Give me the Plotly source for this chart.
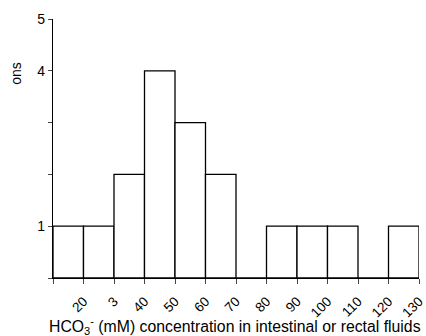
import plotly.graph_objects as go

bin_centers = [15, 25, 35, 45, 55, 65, 75, 85, 95, 105, 115, 125]
counts = [1, 1, 2, 4, 3, 2, 0, 1, 1, 1, 0, 1]
x_tickvals = [10, 20, 30, 40, 50, 60, 70, 80, 90, 100, 110, 120, 130]
x_ticktext = ["", "20", "3", "40", "50", "60", "70", "80", "90", "100", "110", "120", "130"]
y_tickvals = [0, 1, 2, 3, 4, 5]
y_ticktext = ["", "1", "", "", "4", "5"]

font = "Liberation Sans, Arial, sans-serif"

fig = go.Figure(go.Bar(
    x=bin_centers, y=counts, width=10,
    marker=dict(color="white", line=dict(color="black", width=1.3)),
))

fig.update_layout(
    width=426, height=336,
    margin=dict(l=53, r=7, t=19, b=58),
    plot_bgcolor="white", paper_bgcolor="white",
    showlegend=False,
    font=dict(family=font, size=13, color="black"),
    xaxis=dict(range=[10, 130], tickvals=x_tickvals, ticktext=x_ticktext,
               tickangle=-45, ticks="outside", ticklen=5, tickwidth=1.3,
               ticklabelstandoff=4,
               showline=True, linecolor="black", linewidth=1.3, showgrid=False,
               zeroline=False, tickfont=dict(size=13.5), automargin=False),
    yaxis=dict(range=[0, 5], tickvals=y_tickvals, ticktext=y_ticktext,
               ticks="outside", ticklen=4, tickwidth=1.3,
               showline=True, linecolor="black", linewidth=1.3, showgrid=False,
               zeroline=False, tickfont=dict(size=14), automargin=False),
    annotations=[
        dict(text="ons", xref="paper", yref="paper", x=-0.1, y=0.79,
             showarrow=False, textangle=-90, font=dict(size=14),
             xanchor="center", yanchor="middle"),
        dict(text="HCO<sub>3</sub><sup>-</sup> (mM) concentration in intestinal or rectal fluids",
             xref="paper", yref="paper", x=0.497, y=-0.184, xanchor="center", yanchor="middle",
             showarrow=False, font=dict(size=15.8)),
    ],
)

fig.write_html("out.html", config={"displayModeBar": False},
               post_script="document.body.style.margin='0';document.body.style.overflow='hidden';")
